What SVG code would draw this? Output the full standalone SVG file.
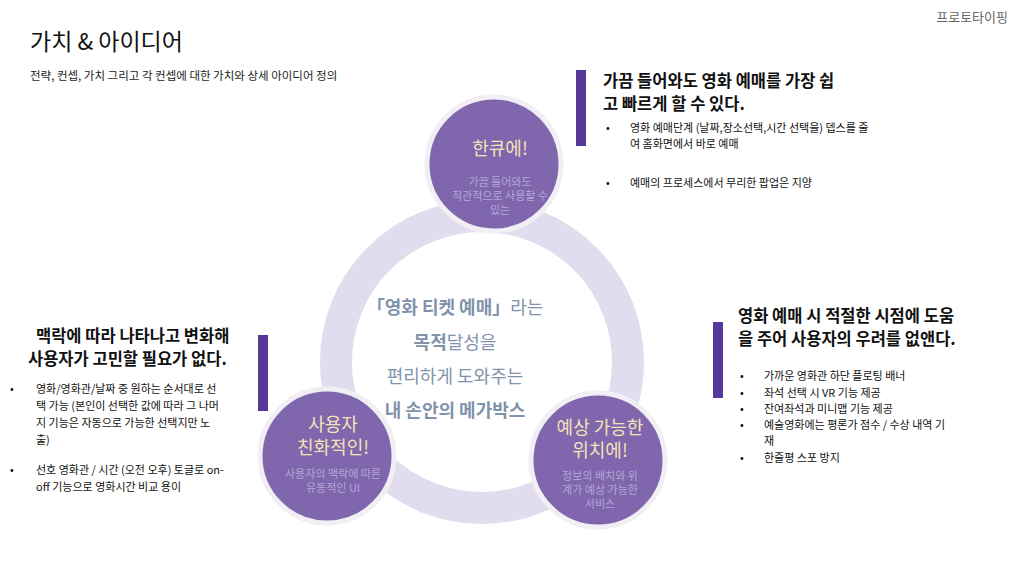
<svg xmlns="http://www.w3.org/2000/svg" width="1024" height="576" viewBox="0 0 1024 576">
<style>
text{font-family:"Noto Sans CJK KR","Noto Sans",sans-serif;}
.h{font-size:16.5px;font-weight:bold;fill:#111}
.b{font-size:11px;fill:#111}
.ct{font-size:18px;fill:#f5e2b5}
.cs{font-size:11px;fill:#b6a6d6}
.m{font-size:18px;fill:#8193ab;text-anchor:middle}
.bar{fill:#56389a}
.node{fill:#7f66ad;stroke:#f1eff4;stroke-width:5}
</style>
<rect width="1024" height="576" fill="#fff"/>
<text x="1008" y="22" text-anchor="end" style="font-size:13px;fill:#666">프로토타이핑</text>
<text x="30" y="50" style="font-size:23px;fill:#111">가치 &amp; 아이디어</text>
<text x="30" y="80" style="font-size:11.5px;fill:#222">전략, 컨셉, 가치 그리고 각 컨셉에 대한 가치와 상세 아이디어 정의</text>
<g id="ring"><circle cx="482" cy="362" r="146" fill="none" stroke="#e2ddee" stroke-width="32"/></g>
<g id="center">
<text class="m" x="455" y="314"><tspan font-weight="bold">「영화 티켓 예매」</tspan>라는</text>
<text class="m" x="455" y="349"><tspan font-weight="bold">목적</tspan>달성을</text>
<text class="m" x="455" y="383">편리하게 도와주는</text>
<text class="m" x="455" y="417" font-weight="bold">내 손안의 메가박스</text>
</g>
<g id="node-top"><circle class="node" cx="494" cy="164" r="67"/>
<text class="ct" x="500" y="155" text-anchor="middle">한큐에!</text>
<text class="cs" x="500" y="186" text-anchor="middle">가끔 들어와도</text>
<text class="cs" x="500" y="200" text-anchor="middle">직관적으로 사용할 수</text>
<text class="cs" x="500" y="214" text-anchor="middle">있는</text></g>
<g id="node-left"><circle class="node" cx="327" cy="456" r="67"/>
<text class="ct" x="333" y="431" text-anchor="middle">사용자</text>
<text class="ct" x="333" y="454" text-anchor="middle">친화적인!</text>
<text class="cs" x="333" y="478" text-anchor="middle">사용자의 맥락에 따른</text>
<text class="cs" x="333" y="492" text-anchor="middle">유동적인 UI</text></g>
<g id="node-right"><circle class="node" cx="598" cy="460" r="67"/>
<text class="ct" x="600" y="434" text-anchor="middle">예상 가능한</text>
<text class="ct" x="600" y="457" text-anchor="middle">위치에!</text>
<text class="cs" x="600" y="480" text-anchor="middle">정보의 배치와 위</text>
<text class="cs" x="600" y="494" text-anchor="middle">계가  예상 가능한</text>
<text class="cs" x="600" y="508" text-anchor="middle">서비스</text></g>
<rect class="bar" x="576" y="70" width="10" height="76"/>
<rect class="bar" x="258" y="335" width="10" height="76"/>
<rect class="bar" x="713" y="322" width="10" height="76"/>
<g id="text-top">
<text class="h" x="603" y="87">가끔 들어와도 영화 예매를 가장 쉽</text>
<text class="h" x="603" y="110">고  빠르게 할 수 있다.</text>
<text class="b" x="606" y="132">•</text><text class="b" x="630" y="132">영화 예매단계 (날짜,장소선택,시간 선택을) 뎁스를 줄</text>
<text class="b" x="630" y="148">여 홈화면에서 바로 예매</text>
<text class="b" x="606" y="187">•</text><text class="b" x="630" y="187">예매의 프로세스에서 무리한 팝업은 지양</text>
</g>
<g id="text-left">
<text class="h" x="36" y="342">맥락에 따라 나타나고 변화해</text>
<text class="h" x="28" y="365">사용자가 고민할 필요가 없다.</text>
<text class="b" x="10" y="393">•</text><text class="b" x="36" y="393">영화/영화관/날짜 중 원하는 순서대로 선</text>
<text class="b" x="36" y="410">택 가능 (본인이 선택한 값에 따라 그 나머</text>
<text class="b" x="36" y="427">지 기능은 자동으로 가능한 선택지만 노</text>
<text class="b" x="36" y="444">출)</text>
<text class="b" x="10" y="474">•</text><text class="b" x="36" y="474">선호 영화관 / 시간 (오전 오후) 토글로 on-</text>
<text class="b" x="36" y="491">off 기능으로 영화시간 비교 용이</text>
</g>
<g id="text-right">
<text class="h" x="738" y="322">영화 예매 시 적절한 시점에 도움</text>
<text class="h" x="738" y="345">을 주어 사용자의 우려를 없앤다.</text>
<text class="b" x="740" y="380">•</text><text class="b" x="764" y="380">가까운 영화관 하단 플로팅 배너</text>
<text class="b" x="740" y="397">•</text><text class="b" x="764" y="397">좌석 선택 시 VR 기능 제공</text>
<text class="b" x="740" y="413">•</text><text class="b" x="764" y="413">잔여좌석과 미니맵 기능 제공</text>
<text class="b" x="740" y="429">•</text><text class="b" x="764" y="429">예술영화에는 평론가 점수 / 수상 내역 기</text>
<text class="b" x="764" y="445">재</text>
<text class="b" x="740" y="462">•</text><text class="b" x="764" y="462">한줄평 스포 방지</text>
</g>
</svg>
